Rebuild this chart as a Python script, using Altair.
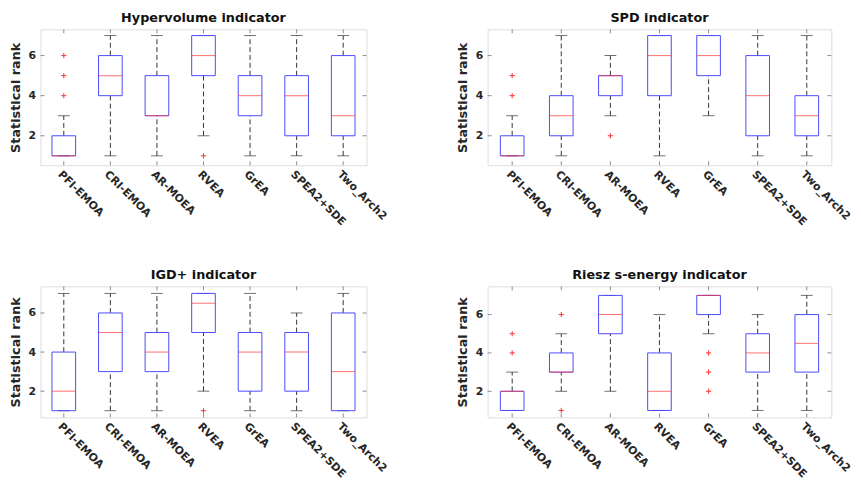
import altair as alt
import pandas as pd

categories = ["PFI-EMOA", "CRI-EMOA", "AR-MOEA", "RVEA", "GrEA", "SPEA2+SDE", "Two_Arch2"]
tick_values = [2, 4, 6]

# Hypervolume indicator
hv_low = [1, 1, 1, 2, 1, 1, 1]
hv_q1 = [1, 4, 3, 5, 3, 2, 2]
hv_med = [1, 5, 3, 6, 4, 4, 3]
hv_q3 = [2, 6, 5, 7, 5, 5, 6]
hv_high = [3, 7, 7, 7, 7, 7, 7]
hv_out_cat = ["PFI-EMOA", "PFI-EMOA", "PFI-EMOA", "RVEA"]
hv_out_val = [4, 5, 6, 1]

# SPD indicator
spd_low = [1, 1, 3, 1, 3, 1, 1]
spd_q1 = [1, 2, 4, 4, 5, 2, 2]
spd_med = [1, 3, 5, 6, 6, 4, 3]
spd_q3 = [2, 4, 5, 7, 7, 6, 4]
spd_high = [3, 7, 6, 7, 7, 7, 7]
spd_out_cat = ["PFI-EMOA", "PFI-EMOA", "AR-MOEA"]
spd_out_val = [4, 5, 2]

# IGD+ indicator
igd_low = [1, 1, 1, 2, 1, 1, 1]
igd_q1 = [1, 3, 3, 5, 2, 2, 1]
igd_med = [2, 5, 4, 6.5, 4, 4, 3]
igd_q3 = [4, 6, 5, 7, 5, 5, 6]
igd_high = [7, 7, 7, 7, 7, 6, 7]
igd_out_cat = ["RVEA"]
igd_out_val = [1]

# Riesz s-energy indicator
rs_low = [1, 2, 2, 1, 5, 1, 1]
rs_q1 = [1, 3, 5, 1, 6, 3, 3]
rs_med = [2, 3, 6, 2, 7, 4, 4.5]
rs_q3 = [2, 4, 7, 4, 7, 5, 6]
rs_high = [3, 5, 7, 6, 7, 6, 7]
rs_out_cat = ["PFI-EMOA", "PFI-EMOA", "CRI-EMOA", "CRI-EMOA", "GrEA", "GrEA", "GrEA"]
rs_out_val = [4, 5, 6, 1, 4, 3, 2]

BLUE = "#4a4aff"
RED = "#ff3030"
FRAME = "#8a8a8a"
WHISK = "#333333"
FONT = "DejaVu Sans"


def panel(title, low, q1, med, q3, high, out_cat, out_val, domain, width, height):
    box = pd.DataFrame({"cat": categories, "low": low, "q1": q1, "med": med,
                        "q3": q3, "high": high})
    outl = pd.DataFrame({"cat": out_cat, "val": out_val})
    ticks = pd.DataFrame({"v": tick_values})
    cats = pd.DataFrame({"cat": categories})

    xs = alt.Scale(domain=categories, paddingInner=0, paddingOuter=0)
    ys = alt.Scale(domain=domain, nice=False, zero=False)
    X = alt.X("cat:N", scale=xs, sort=categories,
              axis=alt.Axis(title=None, labelAngle=45, labelAlign="left",
                            labelBaseline="top", ticks=False, domain=False,
                            labelPadding=3, labelFont=FONT, labelFontSize=11,
                            labelFontWeight="bold", labelColor="#262626",
                            labelLimit=200))
    Xn = alt.X("cat:N", scale=xs, sort=categories)

    def Y(field):
        return alt.Y(field, type="quantitative", scale=ys,
                     axis=alt.Axis(title="Statistical rank", values=tick_values,
                                   ticks=False, domain=False, grid=False,
                                   labelPadding=5, titlePadding=6,
                                   labelFont=FONT, labelFontSize=11,
                                   labelFontWeight="bold", labelColor="#262626",
                                   titleFont=FONT, titleFontSize=13,
                                   titleFontWeight="bold", titleColor="#262626"))

    base = alt.Chart(box)
    lw = base.mark_rule(color=WHISK, strokeDash=[5, 3], strokeWidth=1).encode(
        x=X, y=Y("low"), y2="q1")
    uw = base.mark_rule(color=WHISK, strokeDash=[5, 3], strokeWidth=1).encode(
        x=Xn, y=Y("q3"), y2="high")
    cap_lo = base.mark_tick(color=WHISK, size=12, thickness=1).encode(x=Xn, y=Y("low"))
    cap_hi = base.mark_tick(color=WHISK, size=12, thickness=1).encode(x=Xn, y=Y("high"))
    bx = base.mark_bar(size=24, fill="white", fillOpacity=0, stroke=BLUE,
                       strokeWidth=1).encode(x=Xn, y=Y("q1"), y2="q3")
    md = base.mark_tick(color=RED, size=24, thickness=1).encode(x=Xn, y=Y("med"))
    ol = alt.Chart(outl).mark_point(shape="M-1,0L1,0M0,-1L0,1", size=28,
                                    filled=False, color=RED, strokeWidth=1,
                                    opacity=1).encode(x=Xn, y=Y("val"))
    tl = alt.Chart(ticks).mark_rule(color=FRAME).encode(
        y=Y("v"), x=alt.value(0), x2=alt.value(4))
    tr = alt.Chart(ticks).mark_rule(color=FRAME).encode(
        y=Y("v"), x=alt.value(width - 4), x2=alt.value(width))
    tb = alt.Chart(cats).mark_rule(color=FRAME).encode(
        x=Xn, y=alt.value(height), y2=alt.value(height - 4))
    tt = alt.Chart(cats).mark_rule(color=FRAME).encode(
        x=Xn, y=alt.value(0), y2=alt.value(4))

    return alt.layer(tl, tr, tb, tt, lw, uw, cap_lo, cap_hi, bx, md, ol).properties(
        width=width, height=height,
        title=alt.TitleParams(title, font=FONT, fontSize=13, fontWeight="bold",
                              color="#111111", offset=4))


p1 = panel("Hypervolume indicator", hv_low, hv_q1, hv_med, hv_q3, hv_high,
           hv_out_cat, hv_out_val, [0.53, 7.31], 331, 138)
p2 = panel("SPD indicator", spd_low, spd_q1, spd_med, spd_q3, spd_high,
           spd_out_cat, spd_out_val, [0.53, 7.31], 349, 138)
p3 = panel("IGD+ indicator", igd_low, igd_q1, igd_med, igd_q3, igd_high,
           igd_out_cat, igd_out_val, [0.66, 7.36], 331, 133)
p4 = panel("Riesz s-energy indicator", rs_low, rs_q1, rs_med, rs_q3, rs_high,
           rs_out_cat, rs_out_val, [0.64, 7.47], 349, 133)

chart = alt.concat(p1, p2, p3, p4, columns=2, spacing={"row": 123, "column": 123},
                   bounds="flush", align="each").properties(
    padding={"left": 0, "top": 0, "right": 0, "bottom": 0}
).configure_view(stroke=FRAME, strokeWidth=1).configure(background="white")

chart.save("out.html", embed_options={"renderer": "svg", "actions": False})
